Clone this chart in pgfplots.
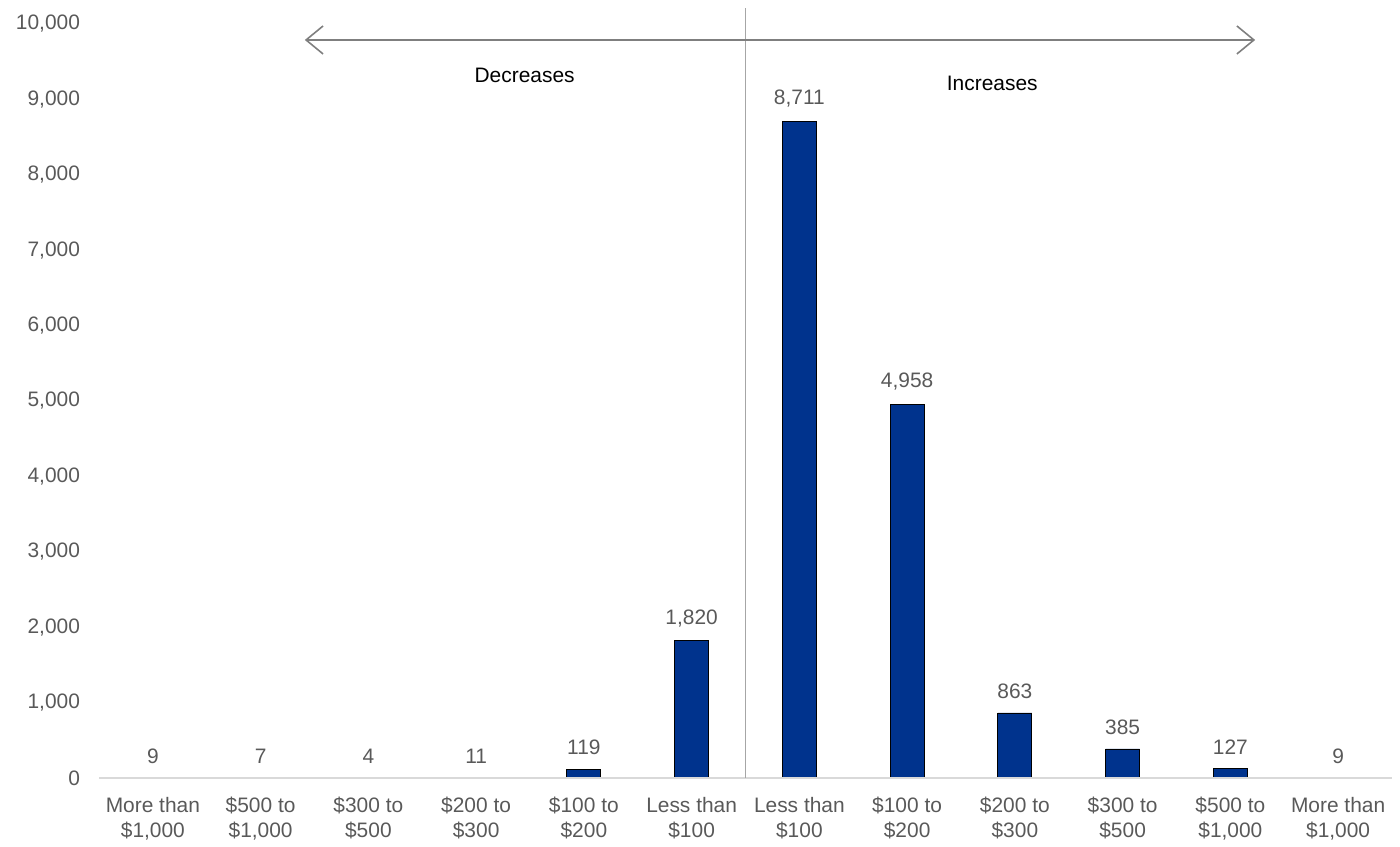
\documentclass[border=0pt]{standalone}
\usepackage{pgfplots}
\pgfplotsset{compat=1.18}
\usepackage{fontspec}
\setmainfont{Liberation Sans}
\usetikzlibrary{arrows.meta}

\definecolor{barblue}{HTML}{00338D}
\definecolor{txtgray}{HTML}{595959}
\definecolor{arrowgray}{HTML}{7F7F7F}
\definecolor{divgray}{HTML}{A6A6A6}
\definecolor{basegray}{HTML}{D9D9D9}

\newcommand{\lbl}{\fontsize{10.5}{12.5}\selectfont}

\begin{document}
\begin{tikzpicture}
\begin{axis}[
  scale only axis,
  width=646.5bp, height=377bp,
  xmin=-0.5, xmax=11.5,
  ymin=0, ymax=10000,
  clip=false,
  axis line style={draw=none},
  major tick length=0pt,
  scaled y ticks=false,
  ytick={0,1000,...,10000},
  xtick={0,...,11},
  xticklabels={
    {More than\\\$1,000},
    {\$500 to\\\$1,000},
    {\$300 to\\\$500},
    {\$200 to\\\$300},
    {\$100 to\\\$200},
    {Less than\\\$100},
    {Less than\\\$100},
    {\$100 to\\\$200},
    {\$200 to\\\$300},
    {\$300 to\\\$500},
    {\$500 to\\\$1,000},
    {More than\\\$1,000}},
  x tick label style={align=center, font=\lbl, text=txtgray, yshift=-6bp},
  y tick label style={font=\lbl, text=txtgray, xshift=-6bp},
  /pgf/number format/1000 sep={,},
  /pgf/number format/assume math mode=true,
]
\addplot[ybar, bar width=17bp, fill=barblue, draw=black, line width=0.4pt,
  nodes near coords,
  every node near coord/.append style={font=\lbl, text=txtgray, yshift=3.5bp,
    /pgf/number format/1000 sep={,}, /pgf/number format/assume math mode=true}]
  coordinates {
  (0,9) (1,7) (2,4) (3,11) (4,119) (5,1820)
  (6,8711) (7,4958) (8,863) (9,385) (10,127) (11,9)};

% baseline and the divider between decreases and increases
\draw[basegray, line width=0.9pt] (axis cs:-0.5,0) -- (axis cs:11.5,0);
\draw[divgray, line width=0.8pt] (axis cs:5.5,0) -- (axis cs:5.5,10212);

% direction arrow
\draw[arrowgray, line width=0.8pt,
  {Straight Barb[length=8.5bp,width=14bp]}-{Straight Barb[length=8.5bp,width=14bp]}]
  (axis cs:1.41,9788) -- (axis cs:10.23,9788);
\node[font=\lbl, text=black] at (axis cs:3.45,9324) {Decreases};
\node[font=\lbl, text=black] at (axis cs:7.79,9218) {Increases};
\end{axis}
\path ([shift={(-49.5bp,-32.5bp)}]current axis.south west)
  rectangle ([shift={(4bp,12bp)}]current axis.north east);
\end{tikzpicture}
\end{document}
